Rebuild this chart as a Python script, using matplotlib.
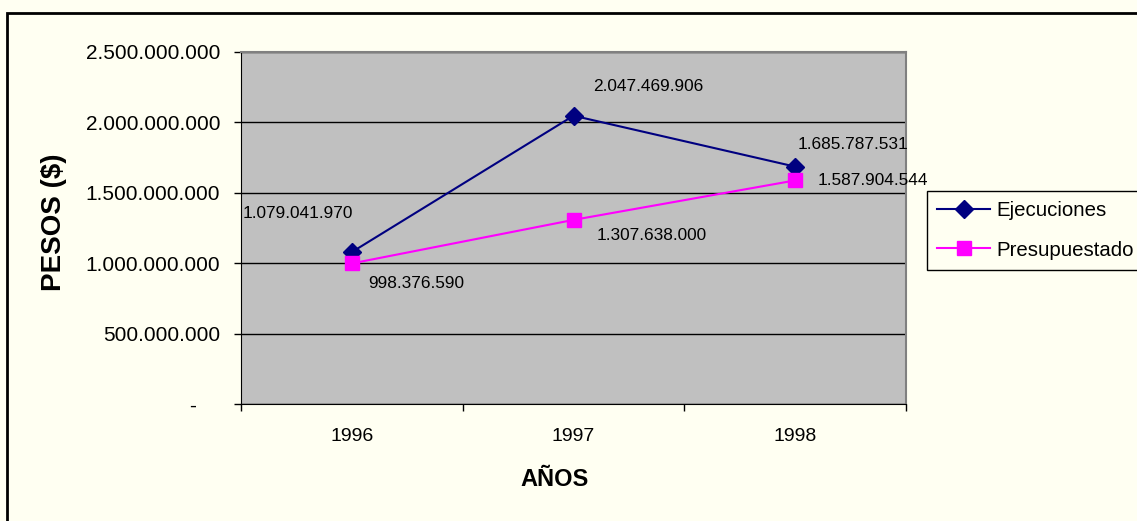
import matplotlib.pyplot as plt
from matplotlib.patches import Rectangle
from matplotlib.ticker import FuncFormatter, FixedLocator

plt.rcParams['font.family'] = ['Liberation Sans', 'DejaVu Sans']

years = ['1996', '1997', '1998']
ejecuciones = [1079041970, 2047469906, 1685787531]
presupuestado = [998376590, 1307638000, 1587904544]

bg = '#fffff2'
W, H = 1137, 521

fig = plt.figure(figsize=(W / 100, H / 100), dpi=100, facecolor=bg)
ax = fig.add_axes([241 / W, 1 - 404 / H, 665 / W, 352 / H])
ax.set_facecolor('#c0c0c0')

x = list(range(len(years)))
ax.plot(x, ejecuciones, color='#000080', marker='D', markersize=9, lw=1.5,
        label='Ejecuciones', zorder=3)
ax.plot(x, presupuestado, color='#ff00ff', marker='s', markersize=10, lw=1.5,
        label='Presupuestado', zorder=3)


def fmt(v):
    return f'{v:,.0f}'.replace(',', '.')


# data labels (offsets in points)
ej_off = [(1, 28), (14, 21), (2, 16)]
ej_ha = ['right', 'left', 'left']
for i, v in enumerate(ejecuciones):
    ax.annotate(fmt(v), (i, v), xytext=ej_off[i], textcoords='offset points',
                ha=ej_ha[i], va='center', fontsize=12.4, annotation_clip=False)
pr_off = [(11.5, -14.5), (16.5, -11.5), (16, 0)]
for i, v in enumerate(presupuestado):
    ax.annotate(fmt(v), (i, v), xytext=pr_off[i], textcoords='offset points',
                ha='left', va='center', fontsize=12.4, annotation_clip=False)

ax.set_xlim(-0.5, 2.5)
ax.set_ylim(0, 2500000000)
ax.set_yticks([0, 500000000, 1000000000, 1500000000, 2000000000, 2500000000])
ax.yaxis.set_major_formatter(FuncFormatter(lambda v, p: '-    ' if v == 0 else fmt(v)))
ax.grid(axis='y', color='black', lw=1)
ax.set_axisbelow(True)

ax.set_xticks(x)
ax.set_xticklabels(years)
ax.xaxis.set_minor_locator(FixedLocator([-0.5, 0.5, 1.5, 2.5]))
ax.tick_params(axis='x', which='major', length=0, pad=17, labelsize=14)
ax.tick_params(axis='x', which='minor', length=5, width=1, direction='out')
ax.tick_params(axis='y', length=5, width=1, labelsize=15, pad=10)

for s in ['top', 'right']:
    ax.spines[s].set_color('#808080')
    ax.spines[s].set_linewidth(1.5)
for s in ['left', 'bottom']:
    ax.spines[s].set_color('black')

ax.set_xlabel('AÑOS', fontsize=17, fontweight='bold', va='center')
ax.xaxis.set_label_coords((555 - 241) / 665, -(480 - 404) / 352)
ax.set_ylabel('PESOS ($)', fontsize=20, fontweight='bold', va='center')
ax.yaxis.set_label_coords((54 - 241) / 665, (404 - 222.5) / 352)

leg = ax.legend(loc='upper left', bbox_to_anchor=(927 / W, 1 - 191 / H),
                bbox_transform=fig.transFigure, borderaxespad=0, fontsize=14.7,
                frameon=True, fancybox=False, handlelength=2.6, labelspacing=1.0,
                handletextpad=0.3, borderpad=0.5)
leg.get_frame().set_edgecolor('black')
leg.get_frame().set_facecolor(bg)
leg.get_frame().set_alpha(1)

fig.patches.append(Rectangle((7 / W, -0.1), 1.2, 1 - 13 / H + 0.1,
                             transform=fig.transFigure, fill=False,
                             edgecolor='black', lw=2))

fig.savefig('out.png', dpi=100, facecolor=bg)
